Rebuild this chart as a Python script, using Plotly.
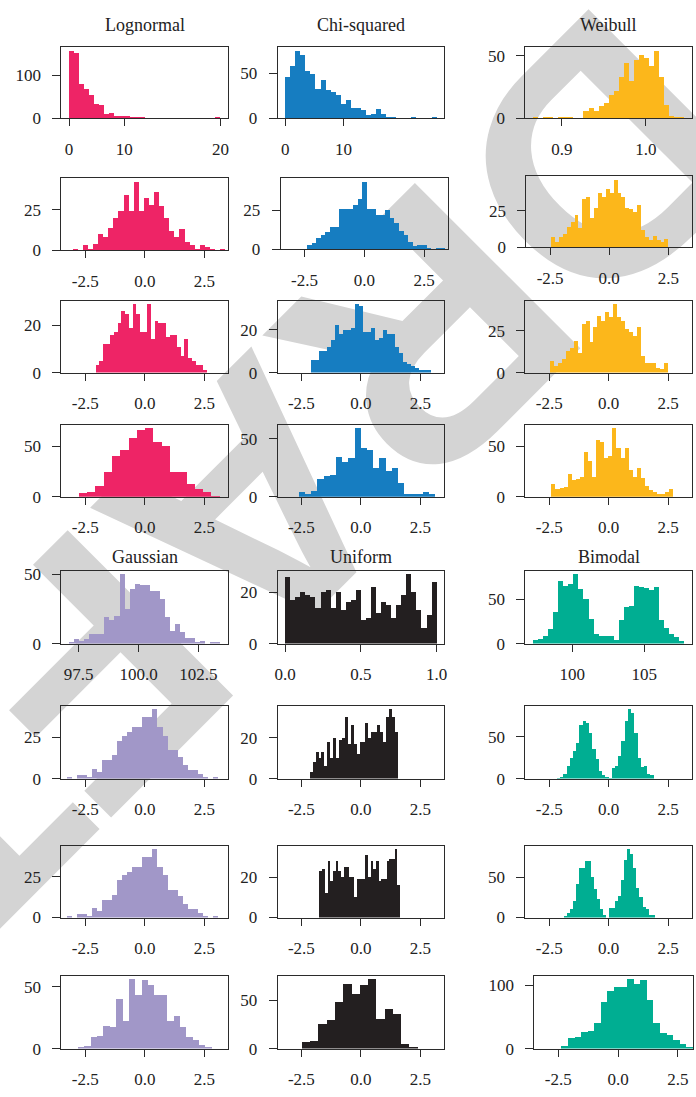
import numpy as np
import plotly.graph_objects as go

W, H = 696, 1097

# ---------------- data: histogram bin counts ----------------
# row 1
lognormal_counts = [156, 150, 80, 68, 53, 32, 30, 10, 12, 5, 5, 5, 3, 3, 2, 0, 0, 0, 0, 0, 0, 0, 0, 0, 0, 0, 0, 0, 0, 2]
lognormal_bins = (0.0, 20.0)
chi2_counts = [46, 58, 75, 70, 52, 49, 33, 42, 31, 29, 26, 16, 20, 11, 11, 9, 4, 5, 10, 5, 1, 2, 0, 0, 0, 1, 0, 0, 0, 1]
chi2_bins = (0.0, 26.0)
weibull_counts = [1, 0, 1, 1, 0, 1, 1, 1, 0, 0, 6, 8, 6, 10, 12, 19, 22, 33, 44, 30, 47, 51, 48, 42, 54, 33, 11, 2, 1, 1]
weibull_bins = (0.8656, 1.046)
# row 2
r2_lognormal_counts = [1, 0, 3, 1, 4, 10, 8, 14, 20, 24, 34, 24, 42, 24, 32, 28, 36, 27, 20, 12, 8, 13, 5, 3, 1, 3, 2, 1, 0, 1]
r2_lognormal_bins = (-3.03, 3.38)
r2_chi2_counts = [3, 4, 7, 9, 11, 14, 14, 26, 26, 26, 28, 32, 43, 26, 26, 22, 22, 25, 20, 17, 12, 9, 5, 2, 3, 3, 1, 0, 1, 1]
r2_chi2_bins = (-2.40, 3.37)
r2_weibull_counts = [7, 4, 7, 9, 14, 17, 22, 13, 33, 34, 20, 27, 37, 34, 40, 37, 46, 37, 34, 27, 26, 24, 29, 12, 7, 5, 8, 5, 4, 6]
r2_weibull_bins = (-2.46, 2.50)
# row 3
r3_lognormal_counts = [3, 5, 12, 12, 16, 17, 21, 26, 25, 19, 29, 25, 17, 17, 29, 14, 22, 21, 21, 15, 16, 16, 11, 7, 14, 6, 5, 3, 3, 1]
r3_lognormal_bins = (-2.07, 2.60)
r3_chi2_counts = [6, 6, 10, 10, 12, 15, 22, 18, 20, 20, 21, 32, 31, 19, 19, 21, 15, 16, 20, 18, 18, 12, 9, 5, 4, 3, 2, 1, 1, 1]
r3_chi2_bins = (-2.11, 2.94)
r3_weibull_counts = [7, 4, 6, 8, 13, 15, 19, 12, 29, 31, 18, 27, 34, 31, 36, 33, 41, 33, 31, 26, 24, 22, 27, 10, 6, 6, 6, 3, 2, 6]
r3_weibull_bins = (-2.46, 2.50)
# row 4
r4_lognormal_counts = [4, 5, 11, 25, 40, 46, 58, 66, 68, 54, 50, 25, 25, 13, 8, 5, 1]
r4_lognormal_bins = (-2.77, 3.15)
r4_chi2_counts = [4, 2, 5, 15, 18, 19, 34, 30, 33, 59, 42, 40, 25, 33, 22, 25, 12, 2, 2, 2, 4, 2]
r4_chi2_bins = (-2.61, 3.13)
r4_weibull_counts = [13, 8, 9, 10, 23, 17, 18, 20, 44, 35, 20, 56, 54, 38, 40, 68, 48, 38, 48, 27, 20, 29, 19, 11, 7, 5, 3, 3, 5, 8]
r4_weibull_bins = (-2.41, 2.72)
# row 5
gaussian_counts = [1, 3, 2, 3, 7, 7, 7, 19, 17, 20, 50, 25, 39, 43, 42, 42, 38, 38, 32, 19, 9, 14, 8, 4, 4, 1, 2, 0, 1, 1]
gaussian_bins = (97.10, 103.42)
uniform_counts = [26, 17, 18, 20, 19, 18, 14, 20, 21, 14, 20, 13, 16, 17, 21, 9, 10, 22, 12, 16, 15, 10, 15, 19, 27, 20, 13, 6, 11, 24]
uniform_bins = (0.0, 1.0)
bimodal_counts = [4, 5, 8, 16, 36, 70, 65, 67, 78, 61, 50, 28, 11, 9, 8, 9, 4, 26, 41, 42, 65, 64, 62, 60, 63, 26, 17, 11, 7, 3]
bimodal_bins = (97.27, 107.80)
# row 6
r6_gaussian_counts = [1, 0, 2, 2, 1, 6, 4, 11, 11, 14, 23, 26, 28, 31, 31, 37, 37, 42, 31, 26, 17, 17, 13, 8, 5, 5, 3, 1, 0, 1]
r6_gaussian_bins = (-3.27, 3.07)
r6_uniform_counts = [3, 8, 13, 10, 13, 6, 18, 10, 20, 10, 19, 20, 30, 17, 26, 17, 12, 18, 18, 27, 20, 23, 23, 26, 23, 18, 30, 34, 30, 23]
r6_uniform_bins = (-2.15, 1.55)
r6_bimodal_counts = [1, 2, 6, 15, 25, 33, 43, 64, 69, 67, 55, 35, 23, 9, 4, 2, 1, 13, 15, 27, 45, 69, 83, 78, 55, 25, 14, 15, 6, 4]
r6_bimodal_bins = (-2.18, 1.89)
# row 7
r7_gaussian_counts = [1, 0, 2, 2, 1, 6, 4, 11, 11, 14, 23, 26, 28, 31, 31, 37, 37, 42, 31, 26, 17, 17, 13, 8, 5, 5, 3, 1, 0, 1]
r7_gaussian_bins = (-3.27, 3.07)
r7_uniform_counts = [23, 24, 12, 28, 18, 23, 28, 23, 20, 25, 25, 20, 20, 10, 19, 19, 19, 31, 20, 28, 24, 28, 18, 19, 19, 28, 29, 29, 34, 16]
r7_uniform_bins = (-1.74, 1.65)
r7_bimodal_counts = [2, 5, 11, 20, 41, 62, 61, 70, 70, 50, 35, 23, 10, 3, 0, 12, 12, 21, 27, 47, 71, 85, 79, 62, 37, 25, 13, 10, 3, 3]
r7_bimodal_bins = (-1.90, 1.93)
# row 8
r8_gaussian_counts = [1, 2, 9, 10, 18, 17, 40, 22, 56, 43, 55, 51, 43, 43, 22, 26, 17, 9, 7, 3, 1]
r8_gaussian_bins = (-2.81, 2.82)
r8_uniform_counts = [7, 8, 25, 30, 48, 67, 57, 66, 72, 31, 41, 36, 5, 2]
r8_uniform_bins = (-2.48, 2.39)
r8_bimodal_counts = [4, 16, 18, 27, 28, 40, 74, 91, 97, 97, 110, 103, 108, 77, 40, 25, 22, 14, 8, 3, 2]
r8_bimodal_bins = (-2.37, 3.40)

titles_top = ["Lognormal", "Chi-squared", "Weibull"]
titles_mid = ["Gaussian", "Uniform", "Bimodal"]
std_ticks = [-2.5, 0.0, 2.5]
std_ticktext = ["-2.5", "0.0", "2.5"]

# ---------------- styling ----------------
RED, BLUE, YELLOW = "#EE2466", "#167DC1", "#FCB71B"
PURPLE, BLACK, GREEN = "#A197C8", "#231F20", "#00AE92"
LINE = "#2b2b2b"
TXT = "#222222"
FONT = "Liberation Serif"

# row pixel positions (top, bottom of plot box)
row_px = {1: (42, 114), 2: (175, 248), 3: (299, 372), 4: (425, 498),
          5: (573, 647), 6: (710, 784), 7: (852, 925), 8: (984, 1058)}
col_px = {1: (59, 227), 2: (277, 445), 3: (527, 695)}
special_px = {(2, 2): ((280, 449), (175, 247)),
              (2, 3): ((528, 695), (173, 245)),
              (8, 3): ((536, 696), (984, 1058))}


def mpl_range(lo, hi):
    r = hi - lo
    return [lo - 0.05 * r, hi + 0.05 * r]


STD = [-3.5, 3.5]
panels = [
    # row, col, counts, bins, color, xrange, xticks, xticktext, ytick step
    (1, 1, lognormal_counts, lognormal_bins, RED, mpl_range(*lognormal_bins), [0, 7.3, 20], ["0", "10", "20"], 100),
    (1, 2, chi2_counts, chi2_bins, BLUE, mpl_range(*chi2_bins), [0, 10], ["0", "10"], 50),
    (1, 3, weibull_counts, weibull_bins, YELLOW, mpl_range(*weibull_bins), [0.9, 1.0], ["0.9", "1.0"], 50),
    (2, 1, r2_lognormal_counts, r2_lognormal_bins, RED, STD, std_ticks, std_ticktext, 25),
    (2, 2, r2_chi2_counts, r2_chi2_bins, BLUE, STD, std_ticks, std_ticktext, 25),
    (2, 3, r2_weibull_counts, r2_weibull_bins, YELLOW, STD, std_ticks, std_ticktext, 25),
    (3, 1, r3_lognormal_counts, r3_lognormal_bins, RED, STD, std_ticks, std_ticktext, 20),
    (3, 2, r3_chi2_counts, r3_chi2_bins, BLUE, STD, std_ticks, std_ticktext, 20),
    (3, 3, r3_weibull_counts, r3_weibull_bins, YELLOW, STD, std_ticks, std_ticktext, 25),
    (4, 1, r4_lognormal_counts, r4_lognormal_bins, RED, STD, std_ticks, std_ticktext, 50),
    (4, 2, r4_chi2_counts, r4_chi2_bins, BLUE, STD, std_ticks, std_ticktext, 50),
    (4, 3, r4_weibull_counts, r4_weibull_bins, YELLOW, STD, std_ticks, std_ticktext, 50),
    (5, 1, gaussian_counts, gaussian_bins, PURPLE, mpl_range(*gaussian_bins), [97.5, 100.0, 102.5], ["97.5", "100.0", "102.5"], 50),
    (5, 2, uniform_counts, uniform_bins, BLACK, mpl_range(*uniform_bins), [0.0, 0.5, 1.0], ["0.0", "0.5", "1.0"], 20),
    (5, 3, bimodal_counts, bimodal_bins, GREEN, mpl_range(*bimodal_bins), [100, 105], ["100", "105"], 50),
    (6, 1, r6_gaussian_counts, r6_gaussian_bins, PURPLE, STD, std_ticks, std_ticktext, 25),
    (6, 2, r6_uniform_counts, r6_uniform_bins, BLACK, STD, std_ticks, std_ticktext, 20),
    (6, 3, r6_bimodal_counts, r6_bimodal_bins, GREEN, STD, std_ticks, std_ticktext, 50),
    (7, 1, r7_gaussian_counts, r7_gaussian_bins, PURPLE, STD, std_ticks, std_ticktext, 25),
    (7, 2, r7_uniform_counts, r7_uniform_bins, BLACK, STD, std_ticks, std_ticktext, 20),
    (7, 3, r7_bimodal_counts, r7_bimodal_bins, GREEN, STD, std_ticks, std_ticktext, 50),
    (8, 1, r8_gaussian_counts, r8_gaussian_bins, PURPLE, STD, std_ticks, std_ticktext, 50),
    (8, 2, r8_uniform_counts, r8_uniform_bins, BLACK, STD, std_ticks, std_ticktext, 50),
    (8, 3, r8_bimodal_counts, r8_bimodal_bins, GREEN, [-3.5, 3.127], std_ticks, std_ticktext, 100),
]

fig = go.Figure()
layout = {}
for i, (row, col, counts, bins, color, xr, xt, xtt, ystep) in enumerate(panels, start=1):
    n = len(counts)
    edges = np.linspace(bins[0], bins[1], n + 1)
    centers = 0.5 * (edges[:-1] + edges[1:])
    width = edges[1] - edges[0]
    fig.add_trace(go.Bar(x=centers, y=counts, width=width,
                         marker=dict(color=color, line=dict(width=0)),
                         xaxis=f"x{i}", yaxis=f"y{i}", showlegend=False, hoverinfo="skip"))
    (x0, x1), (y0, y1) = special_px.get((row, col), (col_px[col], row_px[row]))
    ymax = 1.05 * max(counts)
    common = dict(showline=True, linecolor=LINE, linewidth=1, mirror=True,
                  ticks="outside", tickcolor=LINE, tickwidth=1,
                  showgrid=False, zeroline=False, fixedrange=True,
                  tickfont=dict(family=FONT, size=17, color=TXT))
    layout[f"xaxis{i}"] = dict(domain=[x0 / W, min(x1 / W, 1.0)], range=xr, anchor=f"y{i}",
                               tickmode="array", tickvals=xt, ticktext=xtt,
                               ticklen=7, ticklabelstandoff=8, **common)
    layout[f"yaxis{i}"] = dict(domain=[1 - y1 / H, 1 - y0 / H], range=[0, ymax], anchor=f"x{i}",
                               tickmode="array", tickvals=[0, ystep], ticktext=["0", str(ystep)],
                               ticklen=8, ticklabelstandoff=8, **common)

annotations = []
for c, t in enumerate(titles_top, start=1):
    cx = (col_px[c][0] + col_px[c][1]) / 2
    annotations.append(dict(text=t, x=cx / W, y=1 - 19 / H, xref="paper", yref="paper",
                            xanchor="center", yanchor="middle", showarrow=False,
                            font=dict(family=FONT, size=18, color=TXT)))
for c, t in enumerate(titles_mid, start=1):
    cx = (col_px[c][0] + col_px[c][1]) / 2
    annotations.append(dict(text=t, x=cx / W, y=1 - 559 / H, xref="paper", yref="paper",
                            xanchor="center", yanchor="middle", showarrow=False,
                            font=dict(family=FONT, size=18, color=TXT)))

# watermark behind the plots
wx, wy = 303 / W, 1 - 508 / H
fig.add_shape(type="rect", xref="paper", yref="paper",
              x0=wx - 0.05, x1=wx + 0.05, y0=wy - 0.05, y1=wy + 0.05,
              line=dict(width=0), fillcolor="rgba(0,0,0,0)", layer="below",
              label=dict(text="<b>DRAFT</b>", textangle=135, textposition="middle center",
                         font=dict(family="Liberation Sans", size=340, color="#d4d4d4")))

fig.update_layout(width=W, height=H, autosize=False,
                  margin=dict(l=0, r=0, t=0, b=0),
                  paper_bgcolor="white", plot_bgcolor="rgba(0,0,0,0)",
                  bargap=0, annotations=annotations, **layout)

fig.write_html("out.html", config={"displayModeBar": False, "staticPlot": True},
               post_script="document.body.style.margin='0px';document.body.style.padding='0px';"
                           "document.body.style.overflow='hidden';")
